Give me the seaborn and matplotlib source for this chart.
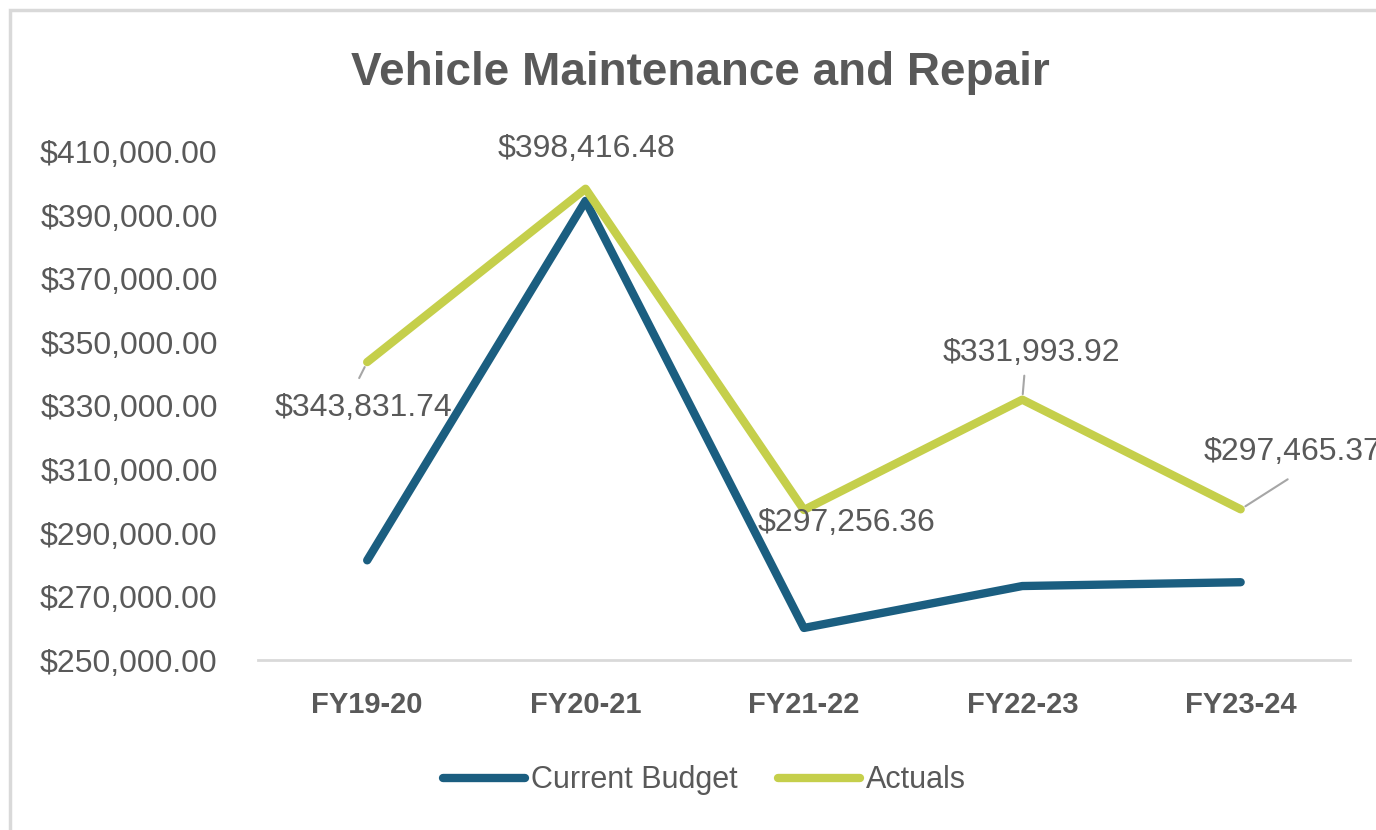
import pandas as pd
import matplotlib.pyplot as plt
import seaborn as sns
from matplotlib.patches import Rectangle
from matplotlib.ticker import FuncFormatter

years = ['FY19-20', 'FY20-21', 'FY21-22', 'FY22-23', 'FY23-24']
budget = [281400, 394600, 260100, 273300, 274500]
actuals = [343831.74, 398416.48, 297256.36, 331993.92, 297465.37]

df = pd.DataFrame({
    'Year': years * 2,
    'Value': budget + actuals,
    'Series': ['Current Budget'] * 5 + ['Actuals'] * 5,
})

sns.set_style("white")
plt.rcParams['font.family'] = ['Liberation Sans', 'DejaVu Sans']
grey = '#595959'

fig = plt.figure(figsize=(13.76, 8.3), dpi=100)
ax = fig.add_axes([0.1875, 0.2048, 0.7935, 0.6121])

colors = {'Current Budget': '#1B5E80', 'Actuals': '#C5CF4B'}
sns.lineplot(data=df, x='Year', y='Value', hue='Series', palette=colors,
             linewidth=6, ax=ax, solid_capstyle='round', legend=False)

ax.set_xlim(-0.5, 4.5)
ax.set_ylim(250000, 410000)
ax.set_yticks(range(250000, 410001, 20000))
ax.yaxis.set_major_formatter(FuncFormatter(lambda v, p: f'${v:,.2f}'))
ax.set_xlabel('')
ax.set_ylabel('')
for s in ['top', 'right', 'left']:
    ax.spines[s].set_visible(False)
ax.spines['bottom'].set_color('#D9D9D9')
ax.spines['bottom'].set_linewidth(2)
ax.tick_params(axis='both', length=0)
ax.tick_params(axis='y', pad=29, labelsize=23, labelcolor=grey)
ax.tick_params(axis='x', pad=22, labelsize=21, labelcolor=grey)
for t in ax.get_xticklabels():
    t.set_fontweight('bold')

# data labels for actuals: offset of the text centre in pixels
offsets = [(-4, -46), (1, 40), (43, -13), (9, 47), (52, 57)]
for i, (v, (dx, dy)) in enumerate(zip(actuals, offsets)):
    ax.annotate(f'${v:,.2f}', xy=(i, v), xytext=(dx, dy),
                textcoords='offset pixels', ha='center', va='center',
                fontsize=23, color=grey, annotation_clip=False)

# leader lines
leaders = [(0, -8, -16), (3, 2, 24), (4, 47, 30)]
for i, dx, dy in leaders:
    ax.annotate('', xy=(i, actuals[i]), xytext=(dx, dy), textcoords='offset pixels',
                arrowprops=dict(arrowstyle='-', color='#A6A6A6', lw=1.5,
                                shrinkA=0, shrinkB=4))

fig.text(0.509, 0.912, 'Vehicle Maintenance and Repair', ha='center', va='center',
         fontsize=33, fontweight='bold', color=grey)

handles = [plt.Line2D([], [], color=colors[k], lw=6, solid_capstyle='round')
           for k in ['Current Budget', 'Actuals']]
fig.legend(handles, ['Current Budget', 'Actuals'], loc='center',
           bbox_to_anchor=(0.512, 0.06), ncol=2, frameon=False, fontsize=22,
           handlelength=2.7, handletextpad=0.2, columnspacing=1.3,
           labelcolor=grey)

fig.patches.append(Rectangle((10 / 1376, -0.1), 1.2, 1.1 - 10 / 830,
                             transform=fig.transFigure, fill=False,
                             edgecolor='#D9D9D9', lw=2.5))

fig.savefig('out.png', dpi=100)
